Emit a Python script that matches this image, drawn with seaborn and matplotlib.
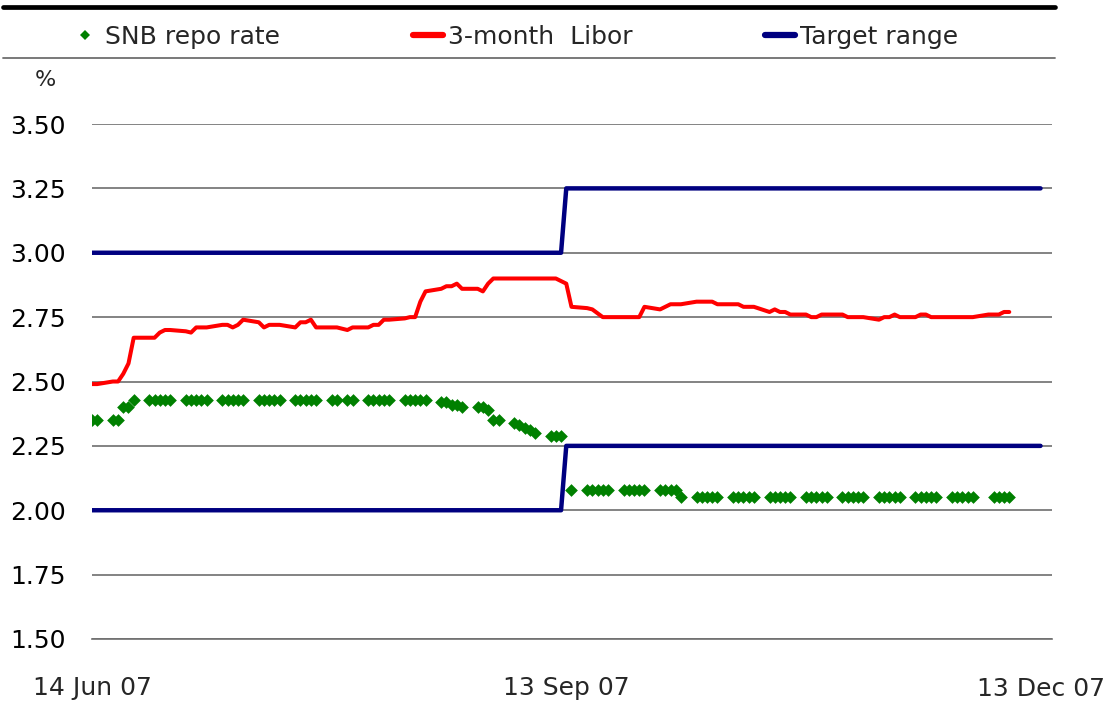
import numpy as np
import pandas as pd
import matplotlib
matplotlib.use('Agg')
import matplotlib.pyplot as plt
import matplotlib.dates as mdates
from matplotlib.lines import Line2D
import seaborn as sns

# --- datos (dias habiles 14 jun 07 - 7 dic 07) ---
dias = pd.bdate_range('2007-06-14', '2007-12-07')

nan = np.nan
snb_repo = [
    2.35, 2.35,
    2.35, 2.35, 2.40, 2.40, 2.43,
    2.43, 2.43, 2.43, 2.43, 2.43,
    2.43, 2.43, 2.43, 2.43, 2.43,
    2.43, 2.43, 2.43, 2.43, 2.43,
    2.43, 2.43, 2.43, 2.43, 2.43,
    2.43, 2.43, 2.43, 2.43, 2.43,
    2.43, 2.43, nan, 2.43, 2.43,
    2.43, 2.43, 2.43, 2.43, 2.43,
    2.43, 2.43, 2.43, 2.43, 2.43,
    2.42, 2.42, 2.41, 2.41, 2.40,
    2.40, 2.40, 2.39, 2.35, 2.35,
    2.34, 2.33, 2.32, 2.31, 2.30,
    2.29, 2.29, 2.29, nan, 2.08,
    2.08, 2.08, 2.08, 2.08, 2.08,
    2.08, 2.08, 2.08, 2.08, 2.08,
    2.08, 2.08, 2.08, 2.08, 2.05,
    2.05, 2.05, 2.05, 2.05, 2.05,
    2.05, 2.05, 2.05, 2.05, 2.05,
    2.05, 2.05, 2.05, 2.05, 2.05,
    2.05, 2.05, 2.05, 2.05, 2.05,
    2.05, 2.05, 2.05, 2.05, 2.05,
    2.05, 2.05, 2.05, 2.05, 2.05,
    2.05, 2.05, 2.05, 2.05, 2.05,
    2.05, 2.05, 2.05, 2.05, 2.05,
    nan, 2.05, 2.05, 2.05, 2.05,
]

libor_3m = [
    2.49, 2.49,
    2.50, 2.50, 2.53, 2.57, 2.67,
    2.67, 2.67, 2.69, 2.70, 2.70,
    2.695, 2.69, 2.71, 2.71, 2.71,
    2.72, 2.72, 2.71, 2.72, 2.74,
    2.73, 2.71, 2.72, 2.72, 2.72,
    2.71, 2.73, 2.73, 2.74, 2.71,
    2.71, 2.71, 2.705, 2.70, 2.71,
    2.71, 2.72, 2.72, 2.74, 2.74,
    2.745, 2.75, 2.75, 2.81, 2.85,
    2.86, 2.87, 2.87, 2.88, 2.86,
    2.86, 2.85, 2.88, 2.90, 2.90,
    2.90, 2.90, 2.90, 2.90, 2.90,
    2.90, 2.90, 2.89, 2.88, 2.79,
    2.785, 2.78, 2.765, 2.75, 2.75,
    2.75, 2.75, 2.75, 2.75, 2.79,
    2.78, 2.79, 2.80, 2.80, 2.80,
    2.81, 2.81, 2.81, 2.81, 2.80,
    2.80, 2.80, 2.79, 2.79, 2.79,
    2.77, 2.78, 2.77, 2.77, 2.76,
    2.76, 2.75, 2.75, 2.76, 2.76,
    2.76, 2.75, 2.75, 2.75, 2.75,
    2.74, 2.75, 2.75, 2.76, 2.75,
    2.75, 2.76, 2.76, 2.75, 2.75,
    2.75, 2.75, 2.75, 2.75, 2.75,
    2.76, 2.76, 2.76, 2.77, 2.77,
]

# banda objetivo (escalones)
fechas_banda = pd.to_datetime(['2007-06-14', '2007-09-12', '2007-09-13', '2007-12-13'])
banda_sup = [3.00, 3.00, 3.25, 3.25]
banda_inf = [2.00, 2.00, 2.25, 2.25]

ticks_x = pd.to_datetime(['2007-06-14', '2007-09-13', '2007-12-13'])
ticks_y = [1.50, 1.75, 2.00, 2.25, 2.50, 2.75, 3.00, 3.25, 3.50]

df = pd.DataFrame({'fecha': dias, 'snb': snb_repo, 'libor': libor_3m})
df_banda = pd.DataFrame({'fecha': fechas_banda, 'sup': banda_sup, 'inf': banda_inf})

# --- estilo ---
sns.set_style('white')
plt.rcParams['font.family'] = ['DejaVu Sans']
plt.rcParams['font.size'] = 18

verde = '#008000'
rojo = '#FF0000'
azul = '#000080'
gris = '#6e6e6e'

fig = plt.figure(figsize=(11.09, 7.03), dpi=100)
ax = fig.add_axes([92 / 1109, 1 - 639 / 703, (1052 - 92) / 1109, (639 - 124) / 703])

sns.lineplot(data=df_banda, x='fecha', y='sup', color=azul, linewidth=3.2, ax=ax, zorder=3)
sns.lineplot(data=df_banda, x='fecha', y='inf', color=azul, linewidth=3.2, ax=ax, zorder=3)
sns.lineplot(data=df, x='fecha', y='libor', color=rojo, linewidth=2.9, ax=ax, zorder=4)
sns.scatterplot(data=df.dropna(), x='fecha', y='snb', color=verde, marker='D', s=42,
                linewidth=0, ax=ax, zorder=5)

# ejes
ax.set_xlim(pd.Timestamp('2007-06-14'), pd.Timestamp('2007-12-13') + pd.Timedelta(days=2.2))
ax.set_ylim(1.5, 3.5)
ax.set_yticks(ticks_y)
ax.yaxis.set_major_formatter(matplotlib.ticker.FormatStrFormatter('%.2f'))
ax.set_xticks(ticks_x)
ax.xaxis.set_major_formatter(mdates.DateFormatter('%d %b %y'))
ax.set_xlabel('')
ax.set_ylabel('')

ax.yaxis.grid(True, color=gris, linewidth=1.2, zorder=0)
ax.xaxis.grid(False)
for lado in ['top', 'left', 'right']:
    ax.spines[lado].set_visible(False)
ax.spines['bottom'].set_color(gris)
ax.spines['bottom'].set_linewidth(1.2)
ax.tick_params(axis='y', length=0, pad=19, labelsize=18, colors='black')
ax.tick_params(axis='x', length=9, width=1.2, color=gris, pad=18, labelsize=18,
               direction='out')

# porcentaje
fig.text(45 / 1109, 1 - 80 / 703, '%', ha='center', va='center', fontsize=16)

# leyenda
handles = [
    Line2D([], [], color=verde, marker='D', linestyle='none', markersize=5, markeredgewidth=0),
    Line2D([], [], color=rojo, linewidth=4.5),
    Line2D([], [], color=azul, linewidth=4.5),
]
etiquetas = ['SNB repo rate', '3-month  Libor', 'Target range']
fig.legend(handles, etiquetas, loc='center left', bbox_to_anchor=(70 / 1109, 1 - 37 / 703),
           ncol=3, frameon=False, fontsize=18, handlelength=1.2, handletextpad=0.2,
           columnspacing=5.3, borderpad=0, borderaxespad=0)

# lineas decorativas superiores
fig.add_artist(Line2D([3 / 1109, 1055 / 1109], [1 - 7 / 703, 1 - 7 / 703],
                      color='black', linewidth=3.4))
fig.add_artist(Line2D([3 / 1109, 1055 / 1109], [1 - 58 / 703, 1 - 58 / 703],
                      color=gris, linewidth=1.3))

fig.savefig('out.png', dpi=100)
plt.close(fig)
